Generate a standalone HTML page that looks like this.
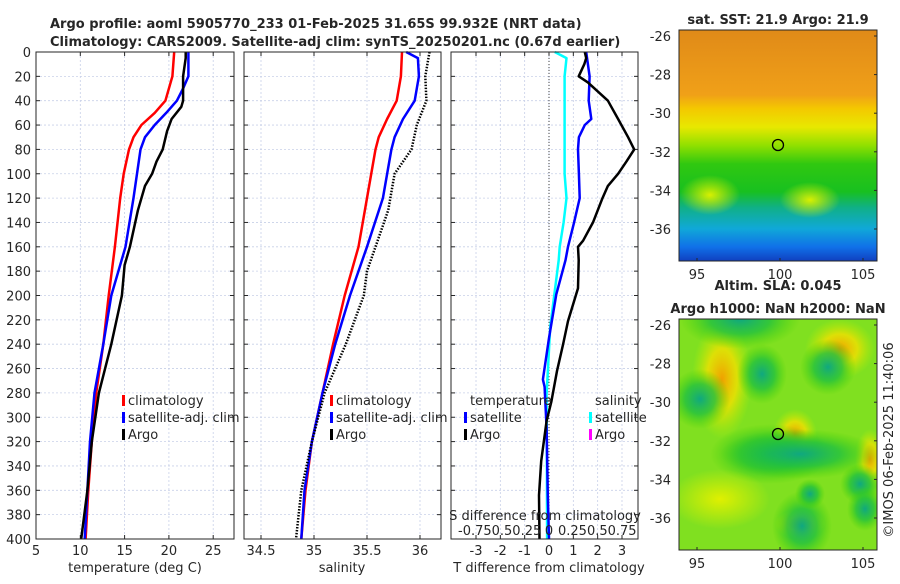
<!DOCTYPE html>
<html><head><meta charset="utf-8">
<style>
body{margin:0;background:#fff;width:900px;height:580px;overflow:hidden;font-family:"DejaVu Sans","Liberation Sans",sans-serif}
svg text{font-family:"DejaVu Sans","Liberation Sans",sans-serif;fill:#262626}
</style></head>
<body>
<svg id="chart" width="900" height="580" xmlns="http://www.w3.org/2000/svg">
<defs>
<linearGradient id="sstg" x1="0" y1="0" x2="0" y2="1">
<stop offset="0" stop-color="#e08a18"/><stop offset="0.28" stop-color="#f0a018"/>
<stop offset="0.34" stop-color="#f4c800"/><stop offset="0.42" stop-color="#e8e800"/>
<stop offset="0.5" stop-color="#90e000"/><stop offset="0.58" stop-color="#30c810"/>
<stop offset="0.7" stop-color="#18c020"/><stop offset="0.77" stop-color="#10b088"/>
<stop offset="0.86" stop-color="#10a8d8"/><stop offset="0.94" stop-color="#1070e8"/>
<stop offset="1" stop-color="#1040c0"/></linearGradient>
<radialGradient id="yb"><stop offset="0" stop-color="#f0a000"/><stop offset="0.5" stop-color="#f4e000" stop-opacity="0.8"/><stop offset="1" stop-color="#c0f000" stop-opacity="0"/></radialGradient>
<radialGradient id="gb"><stop offset="0" stop-color="#10a880"/><stop offset="0.5" stop-color="#20c040" stop-opacity="0.8"/><stop offset="1" stop-color="#40d000" stop-opacity="0"/></radialGradient>
<radialGradient id="yb2"><stop offset="0" stop-color="#e0f000"/><stop offset="1" stop-color="#e0f000" stop-opacity="0"/></radialGradient>
<radialGradient id="ly"><stop offset="0" stop-color="#d8f000"/><stop offset="1" stop-color="#d8f000" stop-opacity="0"/></radialGradient>
</defs>
<g id="g"></g>
</svg>
<script>
// ---- data ----
const tClimDepths = [0,20,40,50,60,70,80,100,120,160,200,240,280,320,360,400];
const tempClim = [20.6,20.4,19.6,18.4,16.9,16.0,15.5,14.9,14.5,13.9,13.2,12.6,11.8,11.3,10.9,10.6];
const tSatDepths = [0,20,30,40,50,60,70,80,100,120,160,200,240,280,320,360,400];
const tempSat = [22.2,22.2,21.6,20.9,19.7,18.4,17.3,16.8,16.4,16.0,15.1,13.5,12.6,11.6,11.1,10.8,10.5];
const tArgoDepths = [0,5,20,40,45,55,65,80,90,100,110,130,160,175,200,240,280,320,360,400];
const tempArgo = [21.9,21.9,21.6,21.6,21.4,20.3,19.8,19.3,18.6,18.1,17.3,16.5,15.6,15.0,14.7,13.5,12.1,11.3,10.8,10.1];
const sClimDepths = [0,20,40,55,70,80,120,160,200,240,280,320,360,400];
const salClim = [35.83,35.82,35.78,35.69,35.61,35.58,35.5,35.42,35.29,35.18,35.08,34.98,34.92,34.88];
const sSatDepths = [0,5,20,40,55,70,80,120,160,200,240,280,320,360,400];
const salSat = [35.87,35.98,35.99,35.95,35.84,35.76,35.73,35.65,35.5,35.34,35.2,35.08,34.98,34.91,34.88];
const sArgoDepths = [0,20,40,60,80,100,130,160,180,200,240,280,320,360,400];
const salArgo = [36.09,36.05,36.06,35.97,35.92,35.76,35.7,35.58,35.5,35.47,35.3,35.1,34.98,34.88,34.83];
const dTSatDepths = [0,20,40,55,60,70,80,100,120,140,160,171,199,235,269,275,309,364,400];
const dTSat = [1.53,1.67,1.63,1.74,1.47,1.23,1.19,1.23,1.26,1.03,0.78,0.68,0.3,0,-0.25,-0.18,-0.1,-0.05,0];
const dTArgoDepths = [0,5,10,20,25,40,45,55,70,80,90,100,110,120,140,155,160,171,194,221,240,262,287,303,336,364,400];
const dTArgo = [1.47,1.53,1.45,1.22,1.6,2.42,2.56,2.84,3.25,3.5,3.18,2.84,2.42,2.2,1.81,1.4,1.19,1.22,1.19,0.78,0.58,0.33,0.1,-0.1,-0.32,-0.41,-0.39];
const dSSatDepths = [0,5,20,100,120,140,160,171,226,281,400];
const dSSat = [0.06,0.18,0.16,0.16,0.18,0.15,0.11,0.1,0.012,-0.025,-0.02];
const tempTicks = [5,10,15,20,25];
const salTicks = [34.5,35,35.5,36];
const dTTicks = [-3,-2,-1,0,1,2,3];
const depthTicks = [0,20,40,60,80,100,120,140,160,180,200,220,240,260,280,300,320,340,360,380,400];
const lonTicks = [95,100,105];
const latTicks = [-26,-28,-30,-32,-34,-36];

const NS='http://www.w3.org/2000/svg';
const G=document.getElementById('g');
function mk(t,a,p){const e=document.createElementNS(NS,t);for(const k in a)e.setAttribute(k,a[k]);(p||G).appendChild(e);return e;}
function tx(x,y,s,o){const e=mk('text',Object.assign({x:x,y:y,'font-size':13},o||{}));e.textContent=s;return e;}
const Y0=52,Y1=539;
const yD=d=>Y0+(d/400)*(Y1-Y0);
const panels=[
 {x0:36,x1:234,v0:5,v1:5+(198/44.3)*5,name:'temperature-panel'},
 {x0:244,x1:441,v0:34.5-(17/106),v1:34.5-(17/106)+197/106,name:'salinity-panel'},
 {x0:451,x1:638,v0:-(98/24.33),v1:-(98/24.33)+187/24.33,name:'difference-panel'}];
panels.forEach(p=>p.f=v=>p.x0+(v-p.v0)/(p.v1-p.v0)*(p.x1-p.x0));
const [P1,P2,P3]=panels;

function grid(p,ticks){
 depthTicks.forEach(d=>{const l=mk('line',{x1:p.x0,x2:p.x1,y1:yD(d),y2:yD(d),stroke:'#c8d0e8','stroke-width':0.8,'stroke-dasharray':'2,2'});
 
 });
 ticks.forEach(t=>{const x=p.f(t);const l=mk('line',{x1:x,x2:x,y1:Y0,y2:Y1,stroke:'#c8d0e8','stroke-width':0.8,'stroke-dasharray':'2,2'});
 
 
 mk('line',{x1:x,x2:x,y1:Y1,y2:Y1-4,stroke:'#262626'});mk('line',{x1:x,x2:x,y1:Y0,y2:Y0+4,stroke:'#262626'});});
 depthTicks.forEach(d=>{mk('line',{x1:p.x0,x2:p.x0+4,y1:yD(d),y2:yD(d),stroke:'#262626'});mk('line',{x1:p.x1,x2:p.x1-4,y1:yD(d),y2:yD(d),stroke:'#262626'});});
}
grid(P1,tempTicks);grid(P2,salTicks);grid(P3,dTTicks);

function line(p,vals,ds,col,w,dash,name){
 const pts=vals.map((v,i)=>p.f(v).toFixed(1)+','+yD(ds[i]).toFixed(1)).join(' ');
 const e=mk('polyline',{points:pts,fill:'none',stroke:col,'stroke-width':w,'stroke-linejoin':'round'});
 if(dash)e.setAttribute('stroke-dasharray',dash);
 
 
}
line(P1,tempClim,tClimDepths,'#ff0000',2.5,null,'temp-climatology-line');
line(P1,tempSat,tSatDepths,'#0000ff',2.5,null,'temp-satellite-line');
line(P1,tempArgo,tArgoDepths,'#000',2.5,null,'temp-argo-line');
line(P2,salClim,sClimDepths,'#ff0000',2.5,null,'sal-climatology-line');
line(P2,salSat,sSatDepths,'#0000ff',2.5,null,'sal-satellite-line');
line(P2,salArgo,sArgoDepths,'#000',2.5,'1.5,1.5','sal-argo-line');
mk('line',{x1:P3.f(0),x2:P3.f(0),y1:Y0,y2:Y1,stroke:'#444','stroke-width':1,'stroke-dasharray':'1,2'});
line(P3,dSSat.map(v=>v*4),dSSatDepths,'#00ffff',2.5,null,'sal-diff-satellite-line');
line(P3,dTSat,dTSatDepths,'#0000ff',2.5,null,'temp-diff-satellite-line');
line(P3,dTArgo,dTArgoDepths,'#000',2.5,null,'temp-diff-argo-line');

panels.forEach(p=>{const r=mk('rect',{x:p.x0,y:Y0,width:p.x1-p.x0,height:Y1-Y0,fill:'none',stroke:'#262626'});
 
 });
depthTicks.forEach(d=>tx(31,yD(d)+5,String(d),{'text-anchor':'end'}));
tempTicks.forEach(t=>tx(P1.f(t),555,String(t),{'text-anchor':'middle'}));
salTicks.forEach(t=>tx(P2.f(t),555,String(t),{'text-anchor':'middle'}));
dTTicks.forEach(t=>tx(P3.f(t),555,String(t),{'text-anchor':'middle'}));
tx(135,572,'temperature (deg C)',{'text-anchor':'middle'});
tx(342,572,'salinity',{'text-anchor':'middle'});
tx(549,572,'T difference from climatology',{'text-anchor':'middle'});
tx(545,520,'S difference from climatology',{'text-anchor':'middle'});
tx(458,535,'-0.750.50.25',{});tx(549,535,'0',{'text-anchor':'middle'});tx(558,535,'0.250.50.75',{});

function leg(x,y,col,label,n){const r=mk('rect',{x:x,y:y-10,width:3,height:11,fill:col});
 
 
 tx(x+6,y,label);}
leg(122,405,'#ff0000','climatology','legend-entry-climatology');
leg(122,422,'#0000ff','satellite-adj. clim','legend-entry-satellite');
leg(122,439,'#000','Argo','legend-entry-argo');
leg(330,405,'#ff0000','climatology','legend-entry-climatology-sal');
leg(330,422,'#0000ff','satellite-adj. clim','legend-entry-satellite-sal');
leg(330,439,'#000','Argo','legend-entry-argo-sal');
tx(470,405,'temperature');tx(595,405,'salinity');
leg(464,422,'#0000ff','satellite','legend-t-satellite');
leg(464,439,'#000','Argo','legend-t-argo');
leg(589,422,'#00ffff','satellite','legend-s-satellite');
leg(589,439,'#ff00ff','Argo','legend-s-argo');

const t1=tx(50,28,'Argo profile: aoml 5905770_233 01-Feb-2025 31.65S 99.932E (NRT data)',{'font-weight':'bold'});

const t2=tx(50,46,'Climatology: CARS2009. Satellite-adj clim: synTS_20250201.nc (0.67d earlier)',{'font-weight':'bold'});


function map(y0,title1,title2,isSST,name){
 const x0=679,x1=877,y1=y0+231;
 const r=mk('rect',{x:x0,y:y0,width:x1-x0,height:y1-y0,fill:isSST?'url(#sstg)':'#80e020'});
 
 
 const cp=mk('clipPath',{id:'c'+y0});mk('rect',{x:x0,y:y0,width:198,height:231},cp);
 const gg=mk('g',{'clip-path':'url(#c'+y0+')'});
 if(!isSST){
  [[722,90,30,60,'yb'],[840,60,35,30,'yb'],[795,145,22,25,'yb'],[800,235,25,15,'yb'],[870,170,15,30,'yb'],
   [762,85,25,30,'gb'],[828,78,28,28,'gb'],[770,165,60,30,'gb'],[800,165,80,25,'gb'],[860,195,20,20,'gb'],[802,237,30,35,'gb'],[865,220,18,22,'gb'],[810,205,15,15,'gb'],
   [740,30,60,30,'gb'],[700,110,30,30,'gb']].forEach(b=>mk('ellipse',{cx:b[0],cy:y0+b[1]-30,rx:b[2],ry:b[3],fill:'url(#'+b[4]+')'},gg));
  mk('ellipse',{cx:720,cy:y0+180,rx:50,ry:30,fill:'url(#yb2)'},gg);
 } else {
  mk('ellipse',{cx:810,cy:y0+170,rx:30,ry:18,fill:'url(#ly)'},gg);
  mk('ellipse',{cx:710,cy:y0+165,rx:30,ry:20,fill:'url(#ly)'},gg);
 }
 mk('rect',{x:x0,y:y0,width:198,height:231,fill:'none',stroke:'#262626'});
 mk('ellipse',{cx:778,cy:y0+115,rx:5.5,ry:5.5,fill:'none',stroke:'#000','stroke-width':1.3});
 lonTicks.forEach(l=>{const x=x0+18+(l-95)*16.6;tx(x,y1+18,String(l),{'text-anchor':'middle'});mk('line',{x1:x,x2:x,y1:y1,y2:y1-3,stroke:'#262626'});});
 latTicks.forEach((l,i)=>{const y=y0+6+i*38.6;tx(671,y+5,String(l),{'text-anchor':'end'});mk('line',{x1:x1,x2:x1-3,y1:y,y2:y,stroke:'#262626'});});
 if(title1)tx(778,y0-29,title1,{'font-weight':'bold','text-anchor':'middle'});
 tx(778,y0-6,title2,{'font-weight':'bold','text-anchor':'middle'});
}
map(30,null,'sat. SST: 21.9 Argo: 21.9',true,'sst-map');
map(319,'Altim. SLA: 0.045','Argo h1000: NaN h2000: NaN',false,'sla-map');
const c=tx(0,0,'©IMOS 06-Feb-2025 11:40:06',{'text-anchor':'middle',transform:'translate(893,440) rotate(-90)'});

</script>
</body></html>
